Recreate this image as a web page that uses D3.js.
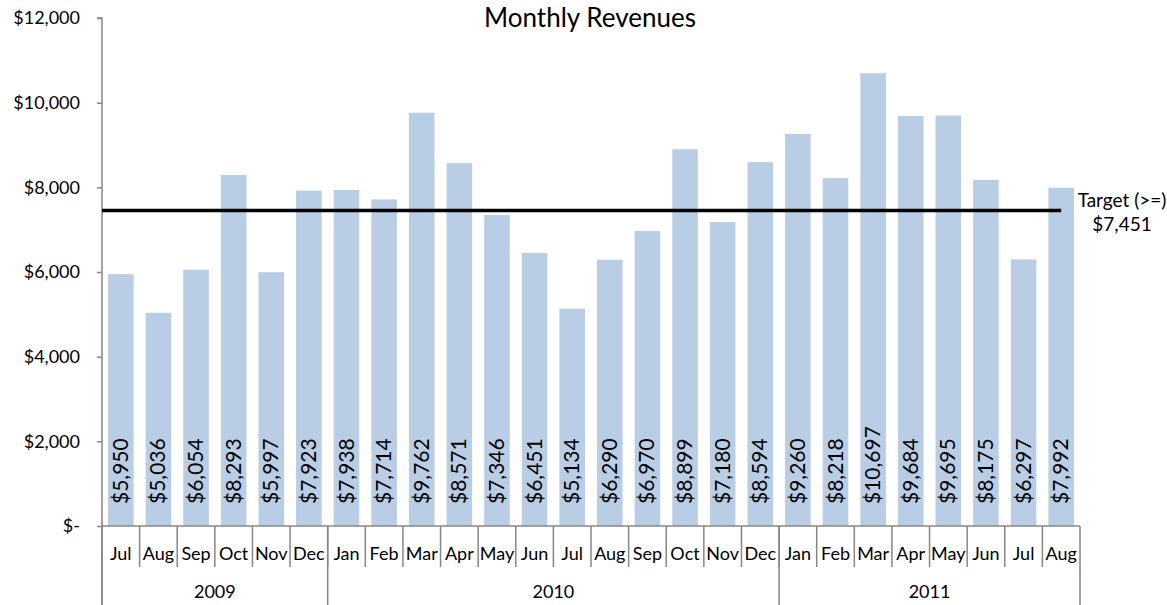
<!DOCTYPE html>
<html>
<head>
<meta charset="utf-8">
<script src="https://cdn.jsdelivr.net/npm/d3@7"></script>
<style>
  body { margin: 0; background: #fff; }
  svg { font-family: Lato, "Open Sans", sans-serif; }
</style>
</head>
<body>
<div id="chart"></div>
<script>
// data
const years = ['2009', '2010', '2011'];
const months = [
  ['Jul', 'Aug', 'Sep', 'Oct', 'Nov', 'Dec'],
  ['Jan', 'Feb', 'Mar', 'Apr', 'May', 'Jun', 'Jul', 'Aug', 'Sep', 'Oct', 'Nov', 'Dec'],
  ['Jan', 'Feb', 'Mar', 'Apr', 'May', 'Jun', 'Jul', 'Aug']
];
const revenues = [
  5950, 5036, 6054, 8293, 5997, 7923,
  7938, 7714, 9762, 8571, 7346, 6451, 5134, 6290, 6970, 8899, 7180, 8594,
  9260, 8218, 10697, 9684, 9695, 8175, 6297, 7992
];
const yTicks = [0, 2000, 4000, 6000, 8000, 10000, 12000];
const target = 7451;

const width = 1167, height = 605;
const margin = { top: 18, right: 87, bottom: 79, left: 102 };

// flatten to one row per bar
const rows = [];
months.forEach((ms, yi) => ms.forEach(m => rows.push({ year: years[yi], month: m })));
rows.forEach((r, i) => { r.value = revenues[i]; r.key = i; });

const svg = d3.select('#chart').append('svg')
  .attr('width', width)
  .attr('height', height);

const x = d3.scaleBand()
  .domain(rows.map(d => d.key))
  .range([margin.left, width - margin.right])
  .paddingInner(0.32)
  .paddingOuter(0.16);

const y = d3.scaleLinear()
  .domain([0, 12000])
  .range([height - margin.bottom, margin.top]);

const axisColor = '#868686';
const fmt = d3.format('$,');

// title
svg.append('text')
  .attr('x', 590)
  .attr('y', 27)
  .attr('text-anchor', 'middle')
  .attr('font-size', 26)
  .attr('fill', '#000')
  .text('Monthly Revenues');

// bars
svg.selectAll('.bar')
  .data(rows)
  .enter()
  .append('rect')
  .attr('class', 'bar')
  .attr('x', d => x(d.key))
  .attr('width', x.bandwidth())
  .attr('y', d => y(d.value))
  .attr('height', d => y(0) - y(d.value))
  .attr('fill', '#b9cde5');

// value labels, rotated
svg.selectAll('.val')
  .data(rows)
  .enter()
  .append('text')
  .attr('class', 'val')
  .attr('transform', d => `translate(${x(d.key) + x.bandwidth() / 2 + 7},${y(0) - 22}) rotate(-90)`)
  .attr('font-size', 21)
  .attr('fill', '#000')
  .text(d => fmt(d.value));

// y axis
const yAxis = svg.append('g')
  .attr('transform', `translate(${margin.left},0)`)
  .call(d3.axisLeft(y).tickValues(yTicks).tickSize(5).tickPadding(17)
    .tickFormat(d => d === 0 ? '$-' : fmt(d)));
yAxis.select('.domain').attr('stroke', axisColor).attr('stroke-width', 1.5)
  .attr('d', `M-5,${y(12000)}H0V${height}`);
yAxis.selectAll('.tick line').attr('stroke', axisColor).attr('stroke-width', 1.5);
yAxis.selectAll('.tick text').attr('font-size', 18).attr('fill', '#000')
  .attr('font-family', 'Lato, sans-serif');

// x axis base line
const x0 = margin.left, x1 = width - margin.right;
svg.append('line')
  .attr('x1', x0).attr('x2', x1)
  .attr('y1', y(0)).attr('y2', y(0))
  .attr('stroke', axisColor).attr('stroke-width', 1.5);

// month separators + labels
const step = x.step();
const start = x(0) - x.paddingOuter() * step;
rows.forEach((d, i) => {
  if (i > 0) {
    svg.append('line')
      .attr('x1', start + i * step).attr('x2', start + i * step)
      .attr('y1', y(0)).attr('y2', y(0) + 41)
      .attr('stroke', axisColor).attr('stroke-width', 1.5);
  }
});
svg.selectAll('.month')
  .data(rows)
  .enter()
  .append('text')
  .attr('class', 'month')
  .attr('x', d => x(d.key) + x.bandwidth() / 2)
  .attr('y', y(0) + 34)
  .attr('text-anchor', 'middle')
  .attr('font-size', 18)
  .attr('fill', '#000')
  .text(d => d.month);

// year separators + labels
let acc = 0;
const bounds = [0];
months.forEach(ms => { acc += ms.length; bounds.push(acc); });
bounds.forEach(b => {
  svg.append('line')
    .attr('x1', start + b * step).attr('x2', start + b * step)
    .attr('y1', y(0)).attr('y2', height)
    .attr('stroke', axisColor).attr('stroke-width', 1.5);
});
years.forEach((yr, i) => {
  svg.append('text')
    .attr('x', start + (bounds[i] + bounds[i + 1]) / 2 * step)
    .attr('y', y(0) + 72)
    .attr('text-anchor', 'middle')
    .attr('font-size', 18)
    .attr('fill', '#000')
    .text(yr);
});

// target line
const last = rows[rows.length - 1];
svg.append('line')
  .attr('x1', margin.left)
  .attr('x2', x(last.key) + x.bandwidth() / 2)
  .attr('y1', y(target)).attr('y2', y(target))
  .attr('stroke', '#000')
  .attr('stroke-width', 3.5);

const tl = svg.append('text')
  .attr('text-anchor', 'middle')
  .attr('font-size', 19)
  .attr('fill', '#000');
tl.append('tspan').attr('x', 1122).attr('y', y(target) - 4).text('Target (>=)');
tl.append('tspan').attr('x', 1122).attr('y', y(target) + 20).text(fmt(target));
</script>
</body>
</html>
